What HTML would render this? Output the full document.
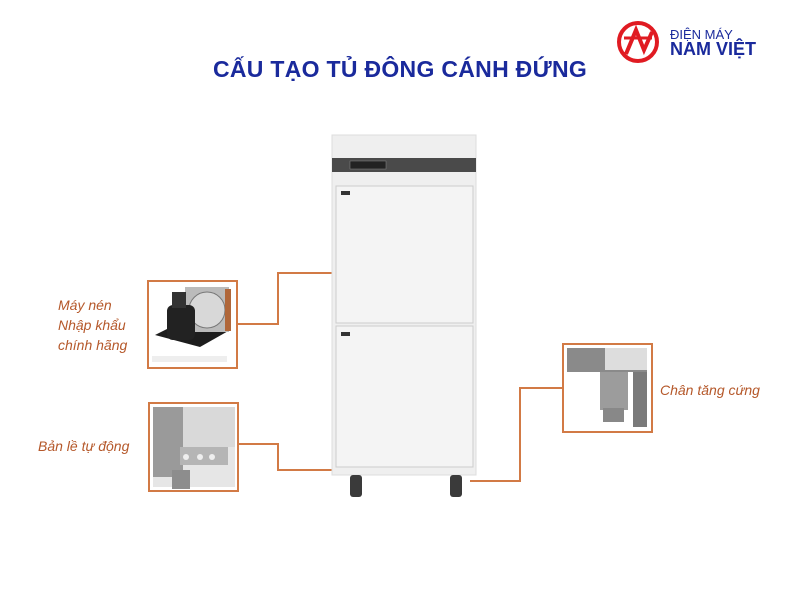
<!DOCTYPE html>
<html><head><meta charset="utf-8"><style>
body{margin:0;width:800px;height:600px;background:#fff;position:relative;overflow:hidden;font-family:"Liberation Sans",sans-serif}
.t{position:absolute;color:#b5582a;font-style:italic;font-size:14px;line-height:20px}
</style></head><body>
<div style="position:absolute;left:0;width:800px;top:56px;text-align:center;font-weight:bold;font-size:23px;color:#1a2a9c;letter-spacing:0.3px">CẤU TẠO TỦ ĐÔNG CÁNH ĐỨNG</div>
<svg style="position:absolute;left:0;top:0" width="800" height="600">
<circle cx="638" cy="42" r="19" fill="none" stroke="#e01b22" stroke-width="4"/>
<path d="M626 54 L636 30 L644 50 L652 32" fill="none" stroke="#e01b22" stroke-width="4"/>
<line x1="624" y1="38" x2="652" y2="38" stroke="#e01b22" stroke-width="3"/>
<text x="670" y="39" font-family="Liberation Sans" font-size="13" fill="#1a2a9c">ĐIỆN MÁY</text>
<text x="670" y="55" font-family="Liberation Sans" font-size="18" font-weight="bold" fill="#1a2a9c">NAM VIỆT</text>
<g fill="none" stroke="#d27a45" stroke-width="2">
<polyline points="237,324 278,324 278,273 332,273"/>
<polyline points="238,444 278,444 278,470 332,470"/>
<polyline points="562,388 520,388 520,481 470,481"/>
<rect x="148" y="281" width="89" height="87"/>
<rect x="149" y="403" width="89" height="88"/>
<rect x="563" y="344" width="89" height="88"/>
</g>
<rect x="152" y="356" width="75" height="6" fill="#eee"/>
<polygon points="155,335 200,347 230,330 185,320" fill="#1d1d1d"/>
<rect x="185" y="287" width="44" height="45" fill="#bbb"/>
<circle cx="207" cy="310" r="18" fill="#d8d8d8" stroke="#777"/>
<rect x="225" y="289" width="6" height="42" fill="#b0673a"/>
<rect x="167" y="305" width="28" height="35" rx="6" fill="#222"/>
<rect x="172" y="292" width="14" height="16" fill="#333"/>
<rect x="153" y="407" width="82" height="80" fill="#e6e6e6"/>
<rect x="153" y="407" width="30" height="70" fill="#9a9a9a"/>
<rect x="183" y="407" width="52" height="40" fill="#d9d9d9"/>
<rect x="180" y="447" width="48" height="18" fill="#b5b5b5"/>
<circle cx="186" cy="457" r="3" fill="#eee"/><circle cx="200" cy="457" r="3" fill="#eee"/><circle cx="212" cy="457" r="3" fill="#eee"/>
<rect x="172" y="470" width="18" height="19" fill="#8d8d8d"/>
<rect x="566" y="348" width="83" height="80" fill="#fff"/>
<rect x="567" y="348" width="80" height="24" fill="#8a8a8a"/>
<rect x="605" y="348" width="42" height="22" fill="#ddd"/>
<rect x="600" y="372" width="28" height="38" fill="#9c9c9c"/>
<rect x="603" y="408" width="21" height="14" fill="#888"/>
<rect x="633" y="372" width="14" height="55" fill="#7a7a7a"/>
<rect x="332" y="135" width="144" height="340" fill="#efefef" stroke="#ddd"/>
<rect x="332" y="158" width="144" height="14" fill="#4a4a4a"/>
<rect x="350" y="161" width="36" height="8" fill="#222" stroke="#888" stroke-width="0.5"/>
<rect x="336" y="186" width="137" height="137" fill="#f4f4f4" stroke="#ccc"/>
<rect x="336" y="326" width="137" height="141" fill="#f4f4f4" stroke="#ccc"/>
<rect x="341" y="191" width="9" height="4" fill="#333"/>
<rect x="341" y="332" width="9" height="4" fill="#333"/>
<rect x="350" y="475" width="12" height="22" rx="3" fill="#3a3a3a"/>
<rect x="450" y="475" width="12" height="22" rx="3" fill="#3a3a3a"/>
</svg>
<div class="t" style="left:58px;top:295px">Máy nén<br>Nhập khẩu<br>chính hãng</div>
<div class="t" style="left:38px;top:436px">Bản lề tự động</div>
<div class="t" style="left:660px;top:380px">Chân tăng cứng</div>
</body></html>
